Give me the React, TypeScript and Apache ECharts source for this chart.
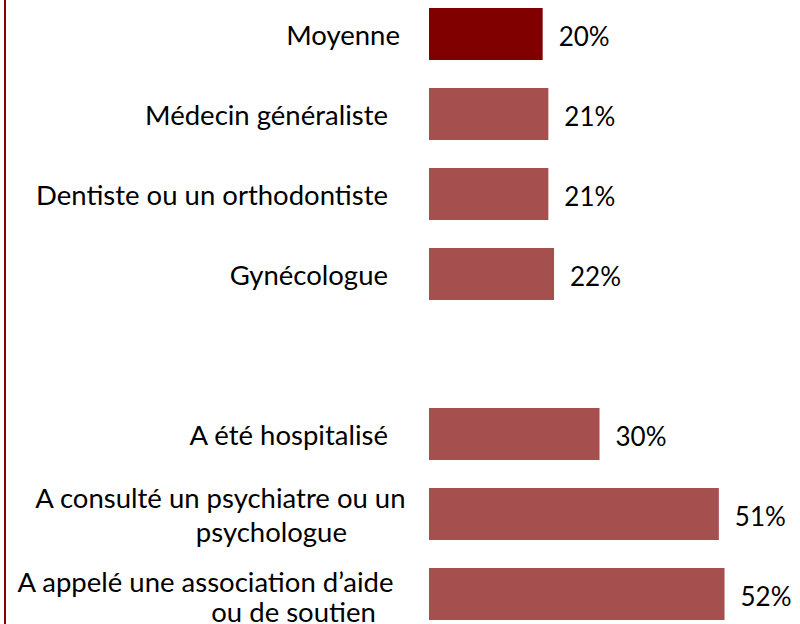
import React, { useEffect, useRef } from "react";
import * as echarts from "echarts";

const categories = [
  "Moyenne",
  "Médecin généraliste",
  "Dentiste ou un orthodontiste",
  "Gynécologue",
  "",
  "A été hospitalisé",
  "A consulté un psychiatre ou un\npsychologue",
  "A appelé une association d’aide\nou de soutien",
];
const values: (number | null)[] = [20, 21, 21, 22, null, 30, 51, 52];
const highlightIndex = 0;

const FONT = "Lato, 'Liberation Sans', sans-serif";

export default function App() {
  const ref = useRef<HTMLDivElement>(null);
  useEffect(() => {
    if (!ref.current) return;
    const chart = echarts.init(ref.current, null, { renderer: "svg" });
    const labelStyle = (i: number, s: string) => {
      if (!s) return "";
      const lines = s.split("\n");
      if (lines.length === 1) {
        return `{${i === 0 ? "a" : "b"}|${s}}`;
      }
      return i === 6
        ? `{c1|${lines[0]}}\n{c2|${lines[1]}}`
        : `{d1|${lines[0]}}\n{d2|${lines[1]}}`;
    };
    const base = { fontFamily: FONT, fontSize: 27.5, color: "#000", lineHeight: 34 };
    chart.setOption({
      animation: false,
      backgroundColor: "#fff",
      grid: { left: 429, top: 0, width: 341, height: 640 },
      xAxis: { type: "value", min: 0, max: 60, show: false },
      yAxis: {
        type: "category",
        inverse: true,
        data: categories,
        axisLine: { show: false },
        axisTick: { show: false },
        splitLine: { show: false },
        axisLabel: {
          margin: 23,
          align: "right",
          formatter: (v: string, i: number) => labelStyle(i, v),
          rich: {
            a: { ...base, padding: [0, 6, 0, 0] },
            b: { ...base, padding: [0, 18, 0, 0] },
            c1: { ...base, align: "center" },
            c2: { ...base, align: "center", padding: [0, 0, 0, 102] },
            d1: { ...base, align: "center", padding: [0, 12, 0, 0] },
            d2: { ...base, align: "center", lineHeight: 26, padding: [0, 0, 0, 164] },
          },
        },
      },
      graphic: [
        {
          type: "line",
          shape: { x1: 5, y1: 0, x2: 5, y2: 640 },
          style: { stroke: "#8B0000", lineWidth: 2 },
        },
      ],
      series: [
        {
          type: "bar",
          barCategoryGap: "35%",
          data: values.map((v, i) => ({
            value: v,
            itemStyle: { color: i === highlightIndex ? "#800000" : "#A64F4F" },
          })),
          label: {
            show: true,
            position: "right",
            distance: 16,
            formatter: (p: any) => (p.value == null ? "" : p.value + "%"),
            fontFamily: FONT,
            fontSize: 26,
            color: "#000",
            offset: [0, 2],
          },
        },
      ],
    });
    return () => chart.dispose();
  }, []);
  return (
    <div
      ref={ref}
      style={{ position: "absolute", left: 0, top: -6, width: 800, height: 640 }}
    />
  );
}
